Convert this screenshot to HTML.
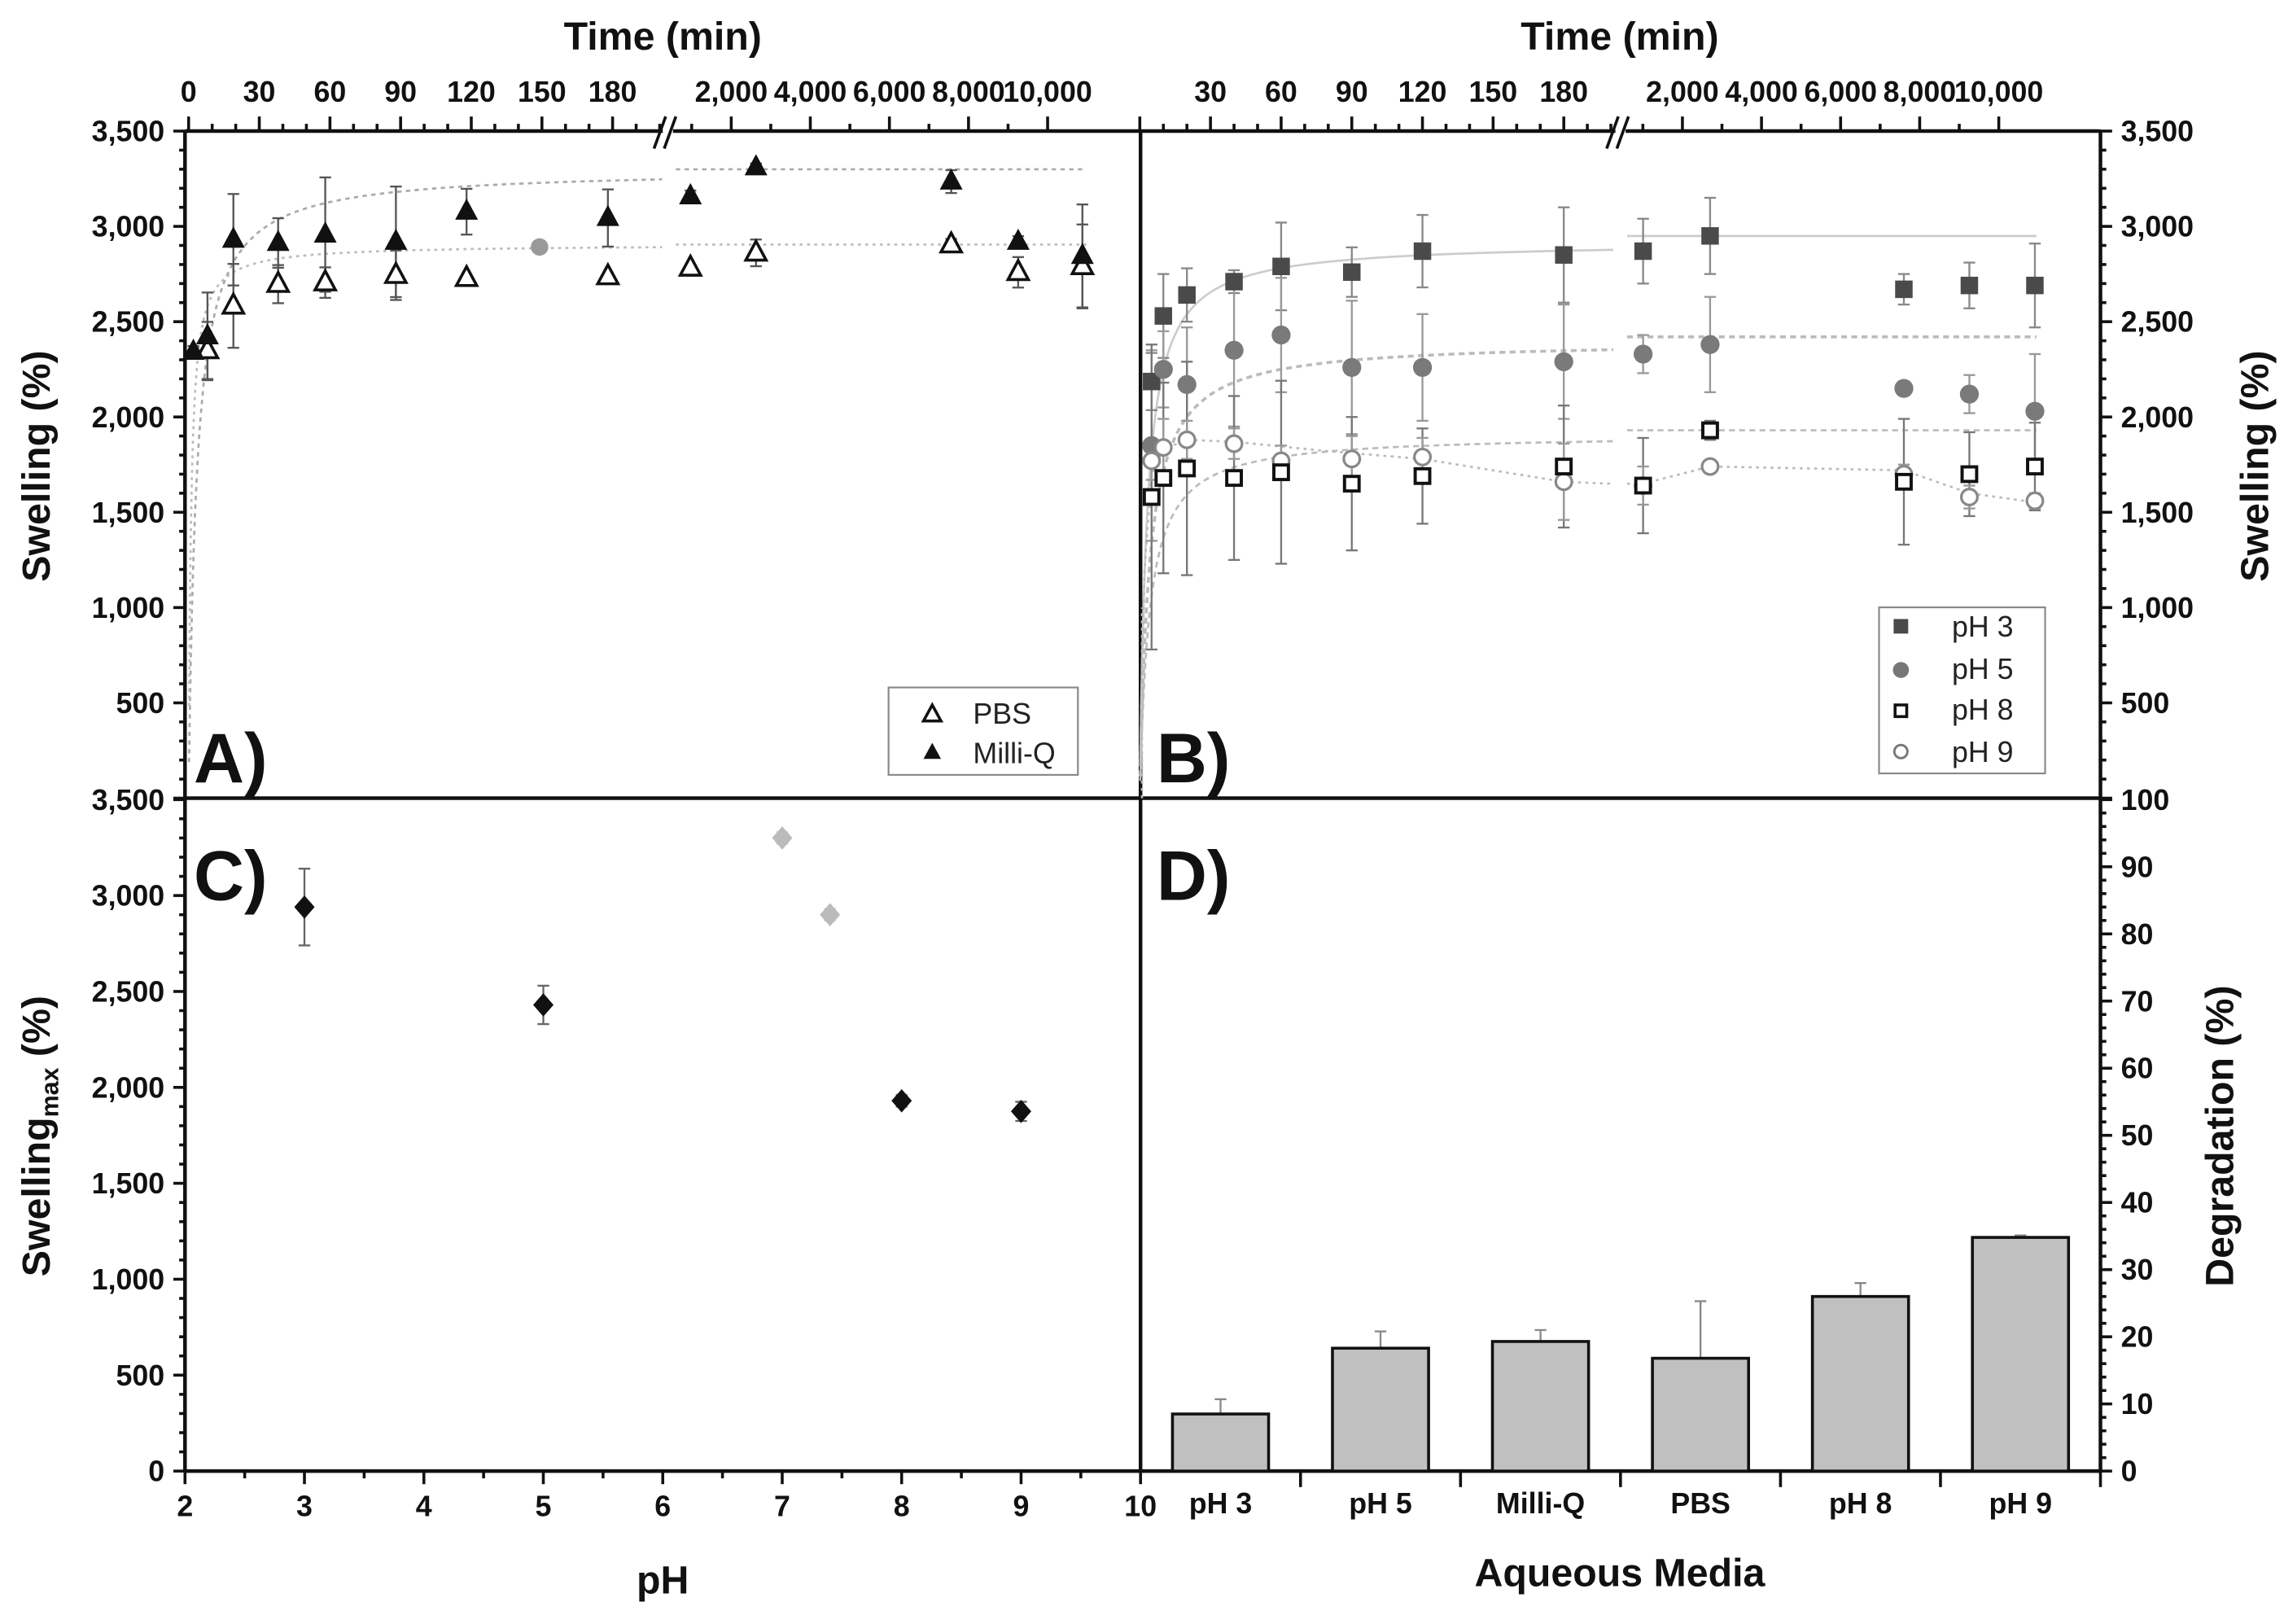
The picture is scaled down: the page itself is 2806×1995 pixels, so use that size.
<!DOCTYPE html>
<html><head><meta charset="utf-8"><style>
html,body{margin:0;padding:0;background:#fff;}
svg{display:block;font-family:"Liberation Sans",Arial,sans-serif;}
.t{font-weight:bold;font-size:20px;fill:#111;}
.ttl{font-weight:bold;font-size:27px;fill:#111;}
.pl{font-weight:bold;font-size:48px;fill:#111;}
.lg{font-size:20px;fill:#222;}
</style></head><body>
<svg id="fig" width="2806" height="1995" viewBox="0 0 1568 1115" preserveAspectRatio="none" xmlns="http://www.w3.org/2000/svg">
<g id="frame" stroke="#111" stroke-width="2.5" fill="none">
<line x1="127" y1="90" x2="127" y2="1010"/>
<line x1="1442" y1="90" x2="1442" y2="1010"/>
<line x1="783" y1="90" x2="783" y2="1010"/>
<line x1="127" y1="548" x2="1442" y2="548"/>
<line x1="127" y1="1010" x2="1442" y2="1010"/>
<line x1="127" y1="90" x2="455" y2="90"/>
<line x1="462" y1="90" x2="783" y2="90"/>
<line x1="783" y1="90" x2="1109" y2="90"/>
<line x1="1116" y1="90" x2="1442" y2="90"/>
</g>
<g stroke="#111" stroke-width="2">
<line x1="449" y1="102" x2="457" y2="80"/><line x1="456" y1="102" x2="464" y2="80"/>
<line x1="1103" y1="102" x2="1111" y2="80"/><line x1="1110" y1="102" x2="1118" y2="80"/>
</g>
<g id="axes"></g>
<g id="marks"></g>
<text class="ttl" x="455" y="34" text-anchor="middle">Time (min)</text>
<text class="ttl" x="1112" y="34" text-anchor="middle">Time (min)</text>
<text class="ttl" transform="translate(34,320) rotate(-90)" text-anchor="middle">Swelling (%)</text>
<text class="ttl" transform="translate(1557,320) rotate(-90)" text-anchor="middle">Swelling (%)</text>
<text class="ttl" transform="translate(34,780) rotate(-90)" text-anchor="middle">Swelling<tspan font-size="17" dy="6">max</tspan><tspan dy="-6"> (%)</tspan></text>
<text class="ttl" transform="translate(1533,780) rotate(-90)" text-anchor="middle">Degradation (%)</text>
<text class="ttl" x="455" y="1094" text-anchor="middle">pH</text>
<text class="ttl" x="1112" y="1089" text-anchor="middle">Aqueous Media</text>
<text class="pl" x="133" y="537">A)</text>
<text class="pl" x="794" y="537">B)</text>
<text class="pl" x="133" y="618">C)</text>
<text class="pl" x="794" y="618">D)</text>
<g>
<rect x="610" y="472" width="130" height="60" fill="#fff" stroke="#888" stroke-width="1.2"/>
<polygon points="640,484 646,495 634,495" fill="#fff" stroke="#111" stroke-width="2"/>
<text class="lg" x="668" y="497">PBS</text>
<polygon points="640,510 646,521 634,521" fill="#111"/>
<text class="lg" x="668" y="524">Milli-Q</text>
</g>
<g>
<rect x="1290" y="417" width="114" height="114" fill="#fff" stroke="#888" stroke-width="1.2"/>
<rect x="1300" y="425" width="10" height="10" fill="#4a4a4a"/>
<text class="lg" x="1340" y="437">pH 3</text>
<circle cx="1305" cy="460" r="5.5" fill="#777"/>
<text class="lg" x="1340" y="466">pH 5</text>
<rect x="1301" y="484" width="8" height="8" fill="#fff" stroke="#111" stroke-width="2"/>
<text class="lg" x="1340" y="494">pH 8</text>
<circle cx="1305" cy="516" r="4.5" fill="#fff" stroke="#777" stroke-width="1.6"/>
<text class="lg" x="1340" y="523">pH 9</text>
</g>
<script>
// ---------- data ----------
const aMilliQT = [2, 8, 19, 38, 58, 88, 118, 178, 969, 2626, 7562, 9256, 10880];
const aMilliQV = [2342, 2423, 2930, 2913, 2957, 2919, 3077, 3044, 3158, 3310, 3235, 2919, 2845];
const aMilliQE = [30, 230, 240, 130, 300, 290, 120, 150, 30, 20, 60, 30, 270];
const aPbsT = [8, 19, 38, 58, 88, 118, 178, 969, 2626, 7562, 9256, 10880];
const aPbsV = [2349, 2583, 2697, 2705, 2744, 2728, 2737, 2782, 2861, 2904, 2759, 2790];
const aPbsE = [150, 220, 100, 80, 130, 0, 0, 0, 70, 30, 80, 220];
const aExtraT = [149];
const aExtraV = [2892];
const bT = [5, 10, 20, 40, 60, 90, 120, 180, 1006, 2700, 7600, 9256, 10913];
const bPh3V = [2186, 2530, 2640, 2710, 2790, 2760, 2870, 2850, 2870, 2950, 2670, 2690, 2690];
const bPh3E = [150, 220, 140, 60, 230, 130, 190, 250, 170, 200, 80, 120, 220];
const bPh5V = [1850, 2250, 2170, 2350, 2430, 2260, 2260, 2290, 2330, 2380, 2150, 2120, 2030];
const bPh5E = [500, 200, 300, 400, 300, 350, 280, 300, 100, 250, 0, 100, 300];
const bPh8V = [1580, 1680, 1730, 1680, 1710, 1650, 1690, 1740, 1640, 1930, 1660, 1700, 1740];
const bPh8E = [800, 500, 560, 430, 480, 350, 250, 320, 250, 50, 330, 220, 230];
const bPh9V = [1770, 1840, 1880, 1860, 1770, 1780, 1790, 1660, 1640, 1740, 1700, 1580, 1560];
const bPh9E = [100, 150, 100, 80, 80, 120, 100, 200, 100, 30, 50, 60, 40];
const fitLeftMax = [3300, 2905, 2920, 2400, 1910];
const fitRightMax = [3300, 2905, 2950, 2420, 1930];
const fitK = [3.3, 1.0, 3, 4, 4];
const pH9FitT = [0.5, 2, 5, 10, 20, 40, 80, 120, 180, 200];
const pH9FitV = [300, 1200, 1700, 1830, 1880, 1870, 1820, 1780, 1660, 1650];
const pH9FitRT = [600, 1006, 2700, 7600, 9256, 11000];
const pH9FitRV = [1650, 1650, 1740, 1720, 1600, 1550];
const cPh = [3, 5, 8, 9];
const cV = [2940, 2430, 1930, 1875];
const cE = [200, 100, 30, 50];
const cRefPh = [7, 7.4];
const cRefV = [3300, 2900];
const dCats = ["pH 3", "pH 5", "Milli-Q", "PBS", "pH 8", "pH 9"];
const dVals = [8.5, 18.3, 19.3, 16.8, 26.0, 34.8];
const dErr = [2.2, 2.5, 1.7, 8.5, 2.0, 0.3];
const timeLeftTicks = [0, 30, 60, 90, 120, 150, 180];
const timeRightTicks = [2000, 4000, 6000, 8000, 10000];
const timeRightLabels = ["2,000", "4,000", "6,000", "8,000", "10,000"];
const swellTicks = [0, 500, 1000, 1500, 2000, 2500, 3000, 3500];
const swellLabels = ["0", "500", "1,000", "1,500", "2,000", "2,500", "3,000", "3,500"];
const phTicks = [2, 3, 4, 5, 6, 7, 8, 9, 10];
const degTicks = [0, 10, 20, 30, 40, 50, 60, 70, 80, 90, 100];

const NS = "http://www.w3.org/2000/svg";
const OFF_B = 653;
function xTime(t, off) { return t <= 202 ? off + 129.5 + 1.617 * t : off + 502 + (t - 2000) * 0.02715; }
function yAB(v) { return 548 - v * 458 / 3500; }
function yC(v) { return 1010 - v * 461 / 3500; }
function xC(p) { return 127 + 82 * (p - 2); }
function yD(p) { return 1010 - p * 4.61; }
const catW = (1442 - 783) / 6;
function xD(i) { return 783 + catW * (i + 0.5); }

const axes = document.getElementById('axes');
const marks = document.getElementById('marks');
function mk(parent, tag, attrs) {
  const e = document.createElementNS(NS, tag);
  for (const k in attrs) e.setAttribute(k, attrs[k]);
  parent.appendChild(e);
  return e;
}
function tick(x1, y1, x2, y2, w) {
  const e = mk(axes, 'line', {x1: x1, y1: y1, x2: x2, y2: y2, stroke: '#111', 'stroke-width': w});
  
  
}
function label(txt, x, y, anchor) {
  const e = mk(axes, 'text', {x: x, y: y, 'text-anchor': anchor, class: 't'});
  e.textContent = txt;
  
  
}

[0, OFF_B].forEach(function (off) {
  for (let t = 0; t <= 200; t += 10) {
    const major = t % 30 === 0;
    tick(xTime(t, off), 90, xTime(t, off), major ? 80 : 85, 2);
  }
  for (let t = 1000; t <= 10000; t += 1000) {
    const major = t % 2000 === 0;
    tick(xTime(t, off), 90, xTime(t, off), major ? 80 : 85, 2);
  }
  timeLeftTicks.forEach(function (t) {
    if (off > 0 && t === 0) return;
    label(String(t), xTime(t, off), 70, 'middle');
  });
  timeRightTicks.forEach(function (t, i) { label(timeRightLabels[i], xTime(t, off), 70, 'middle'); });
});
for (let v = 0; v <= 3500; v += 100) {
  const major = v % 500 === 0;
  tick(127, yAB(v), major ? 119 : 123, yAB(v), 2);
  tick(1442, yAB(v), major ? 1450 : 1446, yAB(v), 2);
  tick(127, yC(v), major ? 119 : 123, yC(v), 2);
}
swellTicks.forEach(function (v, i) {
  if (v > 0) label(swellLabels[i], 113, yAB(v) + 7, 'end');
  if (v > 0 && v < 3500) label(swellLabels[i], 1456, yAB(v) + 7, 'start');
  label(swellLabels[i], 113, yC(v) + 7, 'end');
});
label("3,500", 1456, yAB(3500) + 7, 'start');
for (let p = 2; p <= 10; p += 0.5) {
  const major = p % 1 === 0;
  tick(xC(p), 1010, xC(p), major ? 1019 : 1015, 2);
}
phTicks.forEach(function (p) { label(String(p), xC(p), 1041, 'middle'); });
for (let d = 0; d <= 100; d += 2) {
  const major = d % 10 === 0;
  tick(1442, yD(d), major ? 1450 : 1446, yD(d), 2);
}
degTicks.forEach(function (d) { label(String(d), 1456, yD(d) + 7, 'start'); });
for (let i = 1; i <= 6; i++) tick(783 + catW * i, 1010, 783 + catW * i, 1021, 2);
dCats.forEach(function (c, i) { label(c, xD(i), 1039, 'middle'); });

function errbar(x, y1, y2, color) {
  const g = mk(marks, 'g', {stroke: color, 'stroke-width': 1.3});
  
  
  mk(g, 'line', {x1: x, y1: y1, x2: x, y2: y2});
  mk(g, 'line', {x1: x - 4, y1: y1, x2: x + 4, y2: y1});
  mk(g, 'line', {x1: x - 4, y1: y2, x2: x + 4, y2: y2});
}
function path(d, color, dash, w) {
  const e = mk(marks, 'path', {d: d, fill: 'none', stroke: color, 'stroke-width': w || 1.5, 'stroke-dasharray': dash});
  
  
}
function fitPath(i, off, yfn) {
  let d = '';
  for (let t = 0.2; t <= 201; t *= 1.08) d += (d ? 'L' : 'M') + xTime(t, off).toFixed(1) + ',' + yfn(fitLeftMax[i] * t / (t + fitK[i])).toFixed(1);
  d += 'L' + xTime(201, off).toFixed(1) + ',' + yfn(fitLeftMax[i] * 201 / (201 + fitK[i])).toFixed(1);
  d += 'M' + xTime(600, off).toFixed(1) + ',' + yfn(fitRightMax[i]).toFixed(1) + 'L' + xTime(off ? 10950 : 10980, off).toFixed(1) + ',' + yfn(fitRightMax[i]).toFixed(1);
  return d;
}
function tri(x, y, filled) {
  const e = mk(marks, 'polygon', {points: (x) + ',' + (y - 8) + ' ' + (x + 7) + ',' + (y + 5) + ' ' + (x - 7) + ',' + (y + 5), fill: filled ? '#111' : '#fff', stroke: '#111', 'stroke-width': filled ? 1 : 2});
  
  
}
path(fitPath(0, 0, yAB), '#aaa', '3,3');
path(fitPath(1, 0, yAB), '#bbb', '2,3');
aMilliQT.forEach(function (t, i) { const x = xTime(t, 0); errbar(x, yAB(aMilliQV[i] + aMilliQE[i]), yAB(aMilliQV[i] - aMilliQE[i]), '#555'); });
aPbsT.forEach(function (t, i) { const x = xTime(t, 0); errbar(x, yAB(aPbsV[i] + aPbsE[i]), yAB(aPbsV[i] - aPbsE[i]), '#555'); });
aPbsT.forEach(function (t, i) { tri(xTime(t, 0), yAB(aPbsV[i]), false); });
aMilliQT.forEach(function (t, i) { tri(xTime(t, 0), yAB(aMilliQV[i]), true); });
aExtraT.forEach(function (t, i) {
  const e = mk(marks, 'circle', {cx: xTime(t, 0), cy: yAB(aExtraV[i]), r: 6, fill: '#999'});
  
  
});
path(fitPath(2, OFF_B, yAB), '#ccc', '', 1.5);
path(fitPath(3, OFF_B, yAB), '#bbb', '4,3', 2);
path(fitPath(4, OFF_B, yAB), '#bbb', '4,3', 1.5);
(function () {
  let d = '';
  pH9FitT.forEach(function (t, i) { d += (d ? 'L' : 'M') + xTime(t, OFF_B).toFixed(1) + ',' + yAB(pH9FitV[i]).toFixed(1); });
  pH9FitRT.forEach(function (t, i) { d += (i ? 'L' : 'M') + xTime(t, OFF_B).toFixed(1) + ',' + yAB(pH9FitRV[i]).toFixed(1); });
  path(d + 'M784,548L784,' + yAB(1000).toFixed(1), '#bbb', '2,3', 1.5);
})();
const bSeries = [[bPh3V, bPh3E, '#888'], [bPh5V, bPh5E, '#999'], [bPh8V, bPh8E, '#777'], [bPh9V, bPh9E, '#999']];
bSeries.forEach(function (s) {
  bT.forEach(function (t, i) { errbar(xTime(t, OFF_B), yAB(s[0][i] + s[1][i]), yAB(s[0][i] - s[1][i]), s[2]); });
});
bT.forEach(function (t, i) {
  const x = xTime(t, OFF_B);
  const a = mk(marks, 'rect', {x: x - 6, y: yAB(bPh3V[i]) - 6, width: 12, height: 12, fill: '#4a4a4a'});
  
  
  const b = mk(marks, 'circle', {cx: x, cy: yAB(bPh5V[i]), r: 6.5, fill: '#7a7a7a'});
  
  
  const c = mk(marks, 'circle', {cx: x, cy: yAB(bPh9V[i]), r: 5.5, fill: '#fff', stroke: '#888', 'stroke-width': 1.8});
  
  
  const e = mk(marks, 'rect', {x: x - 5, y: yAB(bPh8V[i]) - 5, width: 10, height: 10, fill: '#fff', stroke: '#111', 'stroke-width': 2.2});
  
  
});
cPh.forEach(function (p, i) { errbar(xC(p), yC(cV[i] + cE[i]), yC(cV[i] - cE[i]), '#666'); });
function diamond(x, y, color, name) {
  const e = mk(marks, 'polygon', {points: x + ',' + (y - 8) + ' ' + (x + 7) + ',' + y + ' ' + x + ',' + (y + 8) + ' ' + (x - 7) + ',' + y, fill: color});
  
  
}
cPh.forEach(function (p, i) { diamond(xC(p), yC(cV[i]), '#111', 'point-swelling-max'); });
cRefPh.forEach(function (p, i) { errbar(xC(p), yC(cRefV[i] + 30), yC(cRefV[i] - 30), '#ccc'); diamond(xC(p), yC(cRefV[i]), '#bbb', 'point-swelling-max-ref'); });
dVals.forEach(function (v, i) {
  const x = xD(i);
  errbar(x, yD(v + dErr[i]), yD(v), '#888');
  const r = mk(marks, 'rect', {x: x - 33, y: yD(v), width: 66, height: 1010 - yD(v), fill: '#c0c0c0', stroke: '#111', 'stroke-width': 2});
  
  
});
</script>
</svg>
</body></html>
